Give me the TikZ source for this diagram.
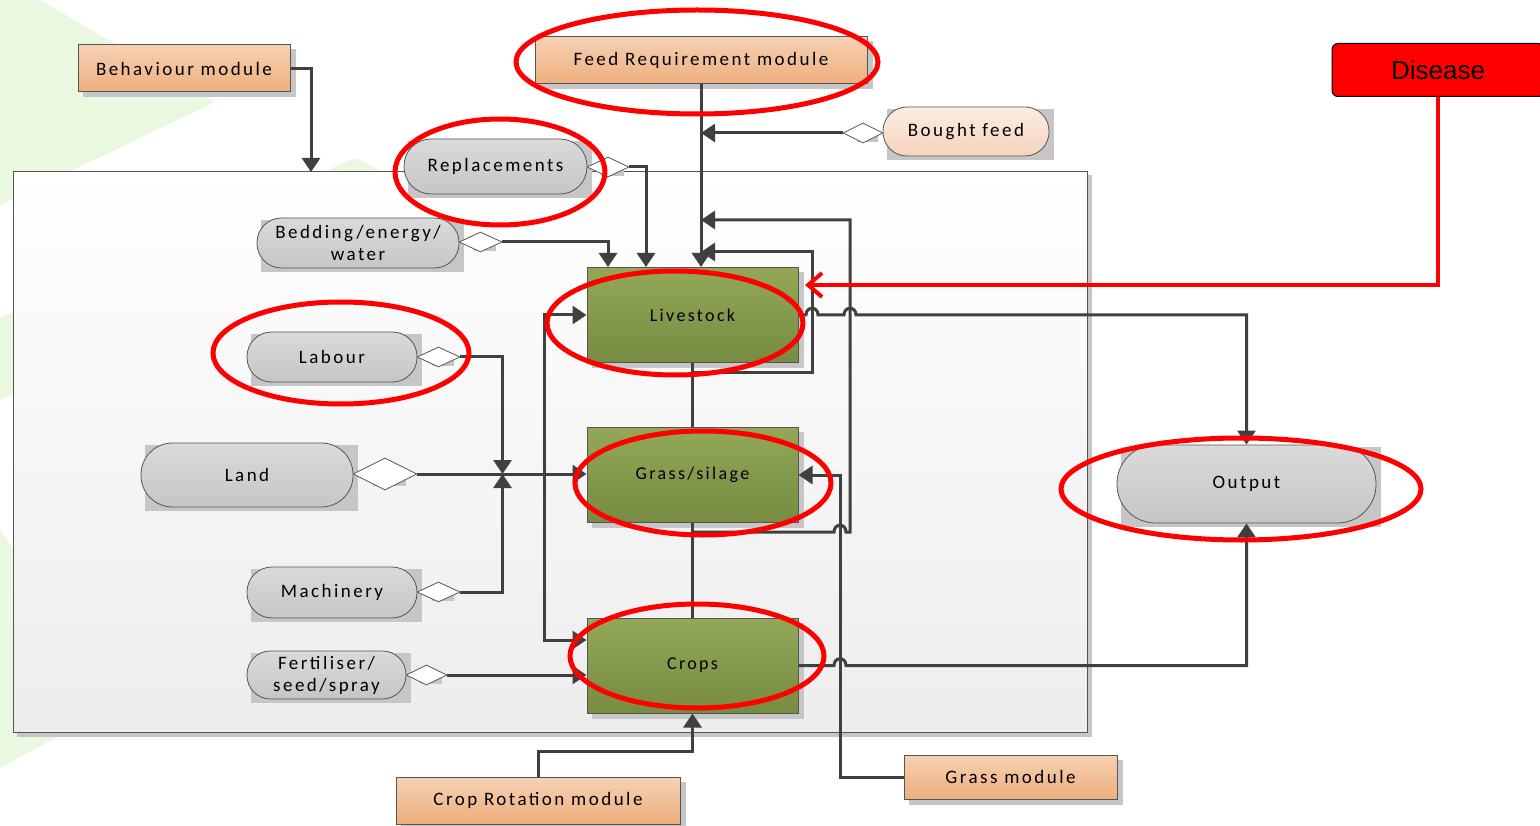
\documentclass[tikz,border=0pt]{standalone}
\usepackage{fontspec}
\setmainfont{Carlito}
\newfontfamily\lblfont[LetterSpace=13]{Carlito}
\newfontfamily\disfont{Liberation Sans}
\usetikzlibrary{arrows.meta,shapes.geometric,calc}
\pgfdeclarelayer{base}
\pgfdeclarelayer{back}
\pgfdeclarelayer{shade}
\pgfsetlayers{base,back,shade,main}

\definecolor{ink}{HTML}{404040}
\definecolor{edge}{HTML}{555555}
\definecolor{shd}{HTML}{C6C6C6}
\definecolor{leaf}{HTML}{EBF8E0}
\definecolor{orgtop}{HTML}{F5D1B4}
\definecolor{orgbot}{HTML}{EEAE7C}
\definecolor{grntop}{HTML}{93A857}
\definecolor{grnbot}{HTML}{778B42}
\definecolor{gtop}{HTML}{DADADA}
\definecolor{gbot}{HTML}{C6C6C6}
\definecolor{ptop}{HTML}{FCEDE2}
\definecolor{pbot}{HTML}{F5D3BC}
\definecolor{alarm}{HTML}{FF0000}
\definecolor{panelbot}{HTML}{EDEDED}

\begin{document}
\begin{tikzpicture}[x=1pt,y=-1pt,
  lbl/.style={font=\lblfont\fontsize{19}{22}\selectfont, text=black, align=center},
  module/.style={lbl, rectangle, draw=edge, line width=1pt, top color=orgtop, bottom color=orgbot, inner sep=0pt},
  unit/.style={lbl, font=\lblfont\fontsize{18}{21}\selectfont, rectangle, draw=edge, line width=1pt,
    top color=grntop, bottom color=grnbot, minimum width=211pt, minimum height=95pt, inner sep=0pt},
  res/.style={lbl, rectangle, draw=edge, line width=0.8pt, top color=gtop, bottom color=gbot, inner sep=0pt},
  link/.style={diamond, draw=edge, line width=0.8pt, fill=white, inner sep=0pt, minimum width=43pt, minimum height=20pt},
  conn/.style={draw=ink, line width=3pt, -{Triangle[length=14pt,width=18pt]}},
  twoway/.style={draw=ink, line width=3pt, {Triangle[length=14pt,width=18pt]}-{Triangle[length=14pt,width=18pt]}},
  plain/.style={draw=ink, line width=3pt},
  ring/.style={draw=alarm, line width=5pt},
]
\useasboundingbox (0,0) rectangle (1540,826);

% farm system panel
\begin{pgfonlayer}{back}
  \node[draw=edge, line width=1pt, top color=white, bottom color=panelbot,
        minimum width=1074pt, minimum height=560pt, inner sep=0pt] (model) at (550,452) {};
\end{pgfonlayer}
\begin{pgfonlayer}{base}
  \fill[leaf] (0,0) -- (40,0) -- (215,102) -- (0,205) -- cycle;
  \fill[leaf] (355,158) -- (430,195) -- (0,400) -- (0,318) -- cycle;
  \fill[leaf] (0,530) -- (125,700) -- (0,768) -- cycle;
  \fill[shd] ($(model.south west)+(4,4)$) rectangle ($(model.north east)+(4,4)$);
\end{pgfonlayer}

% modules
\node[module, minimum width=212pt, minimum height=47pt] (beh) at (184,68.5) {Behaviour module};
\node[module, minimum width=332pt, minimum height=47pt] (feed) at (701,60.5) {Feed Requirement module};
\node[module, minimum width=284pt, minimum height=47pt] (crot) at (538,800.5) {Crop Rotation module};
\node[module, minimum width=213pt, minimum height=44pt] (gmod) at (1010.5,777) {Grass module};
\node[rectangle, rounded corners=6pt, draw=black, line width=1pt, fill=alarm, text=black,
      minimum width=212pt, minimum height=53pt, font=\disfont\fontsize{26}{30}\selectfont] (dis) at (1438,70) {Disease};

% enterprises
\node[unit] (live) at (692.5,315) {Livestock};
\node[unit] (grass) at (692.5,474.5) {Grass/silage};
\node[unit] (crops) at (692.5,665.5) {Crops};

% resources
\node[res, minimum width=183pt, minimum height=55pt, rounded corners=27pt] (repl) at (495.5,166.5) {Replacements};
\node[res, minimum width=202pt, minimum height=50pt, rounded corners=24.5pt] (bed) at (358,243) {Bedding/energy/\\water};
\node[res, minimum width=170pt, minimum height=50pt, rounded corners=24.5pt] (lab) at (332,357) {Labour};
\node[res, minimum width=212pt, minimum height=64pt, rounded corners=31.5pt] (land) at (247,475) {Land};
\node[res, minimum width=170pt, minimum height=51pt, rounded corners=25pt] (mach) at (332,592.5) {Machinery};
\node[res, minimum width=159pt, minimum height=48pt, rounded corners=23.5pt] (fert) at (326.5,675) {Fertiliser/\\seed/spray};
\node[res, top color=ptop, bottom color=pbot, minimum width=166pt, minimum height=49pt, rounded corners=24pt] (bought) at (966,131.5) {Bought feed};
\node[res, minimum width=259pt, minimum height=78pt, rounded corners=38.5pt] (out) at (1246.5,484) {Output};

% aggregation diamonds
\node[link, minimum width=42pt] (repld) at (608,167) {};
\node[link] (bedd) at (480.5,242) {};
\node[link] (labd) at (438.5,357) {};
\node[link, minimum width=64pt, minimum height=32pt] (landd) at (385,474) {};
\node[link] (machd) at (438.5,592) {};
\node[link, minimum width=41pt] (fertd) at (426.5,675) {};
\node[link, minimum width=40pt] (boughtd) at (863,133) {};

% shadows
\begin{pgfonlayer}{shade}
  \foreach \n in {beh,feed,crot,gmod,live,grass,crops}
    \fill[shd] ($(\n.south west)+(5,5)$) rectangle ($(\n.north east)+(5,5)$);
  \foreach \n in {repl,bed,lab,land,mach,fert,bought,out,repld,bedd,labd,landd,machd,fertd,boughtd}
    \fill[shd] ($(\n.south west)+(4,4)$) rectangle ($(\n.north east)+(5,2)$);
\end{pgfonlayer}

% connector end points
\coordinate (bhin) at (311,172);
\coordinate (lin1) at (608,267);
\coordinate (lin2) at (646,267);
\coordinate (ga) at (692.5,373);
\coordinate (la) at (812,252);
\coordinate (gb) at (692.5,532);
\coordinate (lb) at (850,220);
\coordinate (gm) at (840,475);
\coordinate (jn) at (502.5,474);
\coordinate (lc) at (544,640);
\coordinate (dz) at (805,285);

% links between enterprises
\draw[plain] (live.south) -- (grass.north);
\draw[plain] (grass.south) -- (crops.north);

% inputs
\draw[conn] (beh.east) -| (bhin);
\draw[conn] (feed.south) -- (feed.south |- live.north);
\draw[conn] (boughtd.west) -- (boughtd.west -| feed.south);
\draw[conn] (repld.east) -| (lin2);
\draw[conn] (bedd.east) -| (lin1);
\draw[conn] (labd.east) -| (jn);
\draw[conn] (machd.east) -| (jn);
\draw[conn] (landd.east) -- (landd.east -| grass.west);
\draw[conn] (fertd.east) -- (fertd.east -| crops.west);
\draw[twoway] (live.west) -| (lc) -- ($(crops.west)+(0,-25.5)$);

% feedback to the feed requirement
\draw[conn] (ga) -| (la) -- (la -| feed.south);
\draw[conn] (gb) -- (834,532) .. controls (834,523) and (846,523) .. (846,532) -| (lb) -- (lb -| feed.south);

% outputs
\draw[conn] (live.east) -- (806,315) .. controls (806,306) and (818,306) .. (818,315)
  -- (844,315) .. controls (844,306) and (856,306) .. (856,315) -| (out.north);
\draw[conn] (crops.east) -- (834,665.5) .. controls (834,656.5) and (846,656.5) .. (846,665.5) -| (out.south);

% external modules
\draw[conn] (gmod.west) -| (gm) -- (gm -| grass.east);
\draw[conn] (crot.north) -- ++(0,-25) -| (crops.south);

% disease link
\draw[alarm, line width=4pt, -{Straight Barb[length=14pt,width=24pt]}] (dis.south) |- (dz);

% highlighted components
\draw[ring] (697,62) ellipse [x radius=181, y radius=52];
\draw[ring] (500,172) ellipse [x radius=105, y radius=53];
\draw[ring] (341,353) ellipse [x radius=128, y radius=51];
\draw[ring] (675,323) ellipse [x radius=128, y radius=52];
\draw[ring] (703,483) ellipse [x radius=128, y radius=52];
\draw[ring] (697,656) ellipse [x radius=127, y radius=52];
\draw[ring] (1241,489) ellipse [x radius=180, y radius=51];
\end{tikzpicture}
\end{document}
